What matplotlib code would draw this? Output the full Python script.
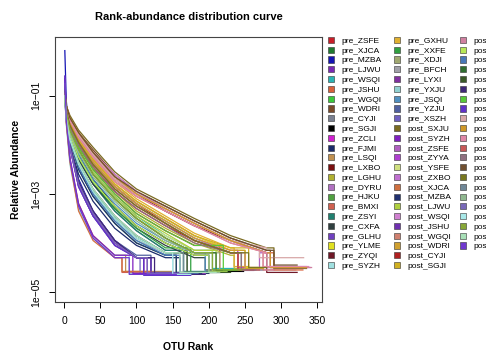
import numpy as np
import matplotlib
matplotlib.use("Agg")
import matplotlib.pyplot as plt
from matplotlib.patches import Patch

plt.rcParams['font.family'] = ['Liberation Sans', 'DejaVu Sans']

knot_ranks = [1, 3, 8, 20, 40, 70, 100, 140, 180, 230, 280]

labels = ['pre_ZSFE', 'pre_XJCA', 'pre_MZBA', 'pre_LJWU', 'pre_WSQI', 'pre_JSHU',
          'pre_WGQI', 'pre_WDRI', 'pre_CYJI', 'pre_SGJI', 'pre_ZCLI', 'pre_FJMI',
          'pre_LSQI', 'pre_LXBO', 'pre_LGHU', 'pre_DYRU', 'pre_HJKU', 'pre_BMXI',
          'pre_ZSYI', 'pre_CXFA', 'pre_GLHU', 'pre_YLME', 'pre_ZYQI', 'pre_SYZH',
          'pre_GXHU', 'pre_XXFE', 'pre_XDJI', 'pre_BFCH', 'pre_LYXI', 'pre_YXJU',
          'pre_JSQI', 'pre_YZJU', 'pre_XSZH', 'post_SXJU', 'post_SYZH', 'post_ZSFE',
          'post_ZYYA', 'post_YSFE', 'post_ZXBO', 'post_XJCA', 'post_MZBA', 'post_LJWU',
          'post_WSQI', 'post_JSHU', 'post_WGQI', 'post_WDRI', 'post_CYJI', 'post_SGJI',
          'post_GXHU', 'post_XXFE', 'post_XDJI', 'post_BFCH', 'post_LYXI', 'post_YXJU',
          'post_JSQI', 'post_YZJU', 'post_XSZH', 'post_ZCLI', 'post_FJMI', 'post_LSQI',
          'post_LXBO', 'post_LGHU', 'post_DYRU', 'post_HJKU', 'post_BMXI', 'post_ZSYI',
          'post_CXFA', 'post_GLHU', 'post_YLME', 'post_ZYQI']

colors = ['#c81e28', '#1f7a30', '#1414b4', '#7a2ab4', '#2ab4b4', '#d8603a',
          '#3ac83a', '#7a4a2a', '#7a8090', '#000000', '#d020d0', '#1a2a6a',
          '#c09050', '#7a1010', '#b0b030', '#b070c0', '#50a040', '#d06050',
          '#208070', '#304040', '#7040c0', '#e0e020', '#701828', '#a0e0e0',
          '#e0b030', '#30a040', '#a0a870', '#a0a0a8', '#8030a0', '#90d0d0',
          '#5090c0', '#5060a0', '#7060c0', '#7a6a20', '#8020c0', '#b060c0',
          '#b040d0', '#d0e080', '#c070d0', '#d07040', '#203070', '#b0d040',
          '#d080d0', '#7030b0', '#d08070', '#d0a030', '#b02020', '#d0b020',
          '#d080a0', '#b8e858', '#4878b8', '#2f6e30', '#3a5a28', '#402878',
          '#58c838', '#6030c8', '#d8a8a8', '#d09828', '#e088a8', '#c85858',
          '#907080', '#705030', '#787820', '#708898', '#90b890', '#7868b8',
          '#a8e8e8', '#88a838', '#a8e0b8', '#7038d0']

# log10 relative abundance at knot_ranks (head of each curve)
head_log = [
    [-1.0, -1.3, -1.65, -2.05, -2.5, -3.0, -3.4, -3.75, -4.05],
    [-1.0, -1.45, -1.85, -2.4, -2.95, -3.5, -3.9, -4.2],
    [-0.08, -1.1, -1.9, -2.7, -3.35, -3.95, -4.3],
    [-0.65, -1.4, -2.0, -2.85, -3.45, -4.05, -4.3],
    [-1.1, -1.45, -1.8, -2.15, -2.55, -3.05, -3.45, -3.85, -4.15],
    [-0.9, -1.2, -1.5, -1.85, -2.25, -2.75, -3.05, -3.35, -3.65, -3.95, -4.2],
    [-1.0, -1.35, -1.65, -2.0, -2.4, -2.85, -3.2, -3.55, -3.9, -4.2],
    [-0.95, -1.2, -1.45, -1.75, -2.1, -2.6, -2.95, -3.25, -3.55, -3.9, -4.15],
    [-0.95, -1.4, -1.8, -2.3, -2.8, -3.35, -3.75, -4.15],
    [-1.0, -1.4, -1.75, -2.2, -2.7, -3.25, -3.65, -4.0, -4.25],
    [-1.05, -1.3, -1.55, -1.9, -2.3, -2.8, -3.15, -3.5, -3.85, -4.15],
    [-0.8, -1.45, -2.0, -2.6, -3.15, -3.7, -4.05, -4.3],
    [-1.0, -1.55, -2.3, -3.2, -3.85, -4.25],
    [-0.95, -1.3, -1.6, -1.95, -2.35, -2.85, -3.2, -3.6, -3.95, -4.2],
    [-1.0, -1.3, -1.6, -2.0, -2.45, -2.95, -3.35, -3.7, -4.0, -4.25],
    [-1.15, -1.45, -1.7, -2.0, -2.4, -2.9, -3.25, -3.6, -3.95, -4.2],
    [-0.9, -1.5, -1.95, -2.5, -3.05, -3.6, -4.0, -4.25],
    [-0.8, -1.5, -2.3, -3.3, -3.9, -4.3],
    [-1.0, -1.4, -1.8, -2.3, -2.8, -3.35, -3.75, -4.15],
    [-1.0, -1.45, -1.85, -2.3, -2.8, -3.3, -3.7, -4.05, -4.3],
    [-0.6, -1.35, -2.0, -2.75, -3.35, -3.95, -4.3],
    [-1.0, -1.3, -1.55, -1.9, -2.3, -2.8, -3.15, -3.5, -3.85, -4.15],
    [-0.95, -1.25, -1.5, -1.8, -2.2, -2.7, -3.0, -3.35, -3.65, -3.95, -4.2],
    [-1.0, -1.6, -2.4, -3.3, -3.9, -4.25],
    [-1.0, -1.25, -1.55, -1.9, -2.3, -2.75, -3.1, -3.45, -3.8, -4.1],
    [-1.0, -1.4, -1.8, -2.25, -2.75, -3.3, -3.7, -4.1],
    [-1.05, -1.35, -1.7, -2.1, -2.6, -3.1, -3.5, -3.9, -4.2],
    [-1.0, -1.5, -1.9, -2.45, -3.0, -3.55, -3.95, -4.2],
    [-0.75, -1.45, -2.05, -2.85, -3.45, -4.0, -4.3],
    [-1.0, -1.5, -1.95, -2.5, -3.0, -3.55, -3.95, -4.25],
    [-1.0, -1.35, -1.75, -2.2, -2.7, -3.2, -3.6, -3.95, -4.2],
    [-0.7, -1.4, -2.0, -2.75, -3.35, -3.95, -4.25],
    [-0.65, -1.4, -2.05, -2.85, -3.45, -4.05, -4.3],
    [-0.95, -1.2, -1.4, -1.7, -2.05, -2.55, -2.9, -3.2, -3.5, -3.85, -4.1],
    [-0.75, -1.5, -2.25, -3.2, -3.85, -4.25],
    [-1.0, -1.25, -1.5, -1.8, -2.2, -2.65, -3.0, -3.3, -3.6, -3.95, -4.2],
    [-0.7, -1.4, -2.0, -2.8, -3.4, -4.0, -4.3],
    [-1.05, -1.4, -1.75, -2.15, -2.6, -3.1, -3.5, -3.85, -4.15],
    [-1.0, -1.3, -1.6, -1.95, -2.35, -2.85, -3.2, -3.55, -3.9, -4.2],
    [-0.9, -1.55, -2.35, -3.35, -3.95, -4.3],
    [-0.8, -1.4, -1.9, -2.5, -3.05, -3.6, -4.0, -4.25],
    [-1.0, -1.35, -1.7, -2.1, -2.55, -3.05, -3.45, -3.8, -4.15],
    [-0.95, -1.25, -1.5, -1.8, -2.15, -2.6, -2.95, -3.3, -3.6, -3.95, -4.2],
    [-0.65, -1.4, -2.0, -2.8, -3.4, -4.0, -4.3],
    [-0.95, -1.25, -1.55, -1.85, -2.25, -2.7, -3.05, -3.35, -3.65, -4.0, -4.2],
    [-1.0, -1.3, -1.6, -1.95, -2.35, -2.85, -3.2, -3.55, -3.9, -4.15],
    [-1.0, -1.3, -1.6, -2.0, -2.45, -2.95, -3.3, -3.65, -3.95, -4.2],
    [-0.95, -1.25, -1.55, -1.9, -2.3, -2.8, -3.15, -3.5, -3.85, -4.1],
    [-0.95, -1.25, -1.5, -1.8, -2.2, -2.7, -3.0, -3.3, -3.6, -3.95, -4.2],
    [-1.0, -1.4, -1.8, -2.25, -2.75, -3.25, -3.65, -4.0, -4.25],
    [-0.9, -1.45, -1.9, -2.45, -3.0, -3.55, -3.95, -4.25],
    [-1.0, -1.35, -1.7, -2.1, -2.6, -3.1, -3.5, -3.9, -4.2],
    [-1.0, -1.45, -1.9, -2.4, -2.9, -3.45, -3.85, -4.2],
    [-0.7, -1.4, -2.0, -2.75, -3.35, -3.95, -4.3],
    [-1.0, -1.3, -1.65, -2.05, -2.5, -3.0, -3.4, -3.75, -4.05],
    [-0.6, -1.4, -2.05, -2.85, -3.45, -4.05, -4.3],
    [-0.95, -1.25, -1.5, -1.8, -2.2, -2.7, -3.0, -3.3, -3.6, -3.95, -4.1],
    [-0.95, -1.2, -1.45, -1.75, -2.15, -2.65, -3.0, -3.3, -3.6, -3.95, -4.2],
    [-0.95, -1.25, -1.5, -1.85, -2.25, -2.75, -3.05, -3.35, -3.65, -4.0, -4.2],
    [-1.0, -1.3, -1.6, -1.95, -2.4, -2.9, -3.25, -3.6, -3.95, -4.2],
    [-1.05, -1.35, -1.65, -2.0, -2.45, -2.95, -3.3, -3.65, -4.0, -4.2],
    [-0.9, -1.2, -1.45, -1.75, -2.15, -2.65, -2.95, -3.25, -3.55, -3.9, -4.15],
    [-1.0, -1.3, -1.6, -1.95, -2.4, -2.9, -3.25, -3.6, -3.95, -4.2],
    [-1.0, -1.45, -1.85, -2.35, -2.9, -3.45, -3.85, -4.2],
    [-1.0, -1.35, -1.75, -2.15, -2.65, -3.15, -3.55, -3.95, -4.2],
    [-0.75, -1.45, -2.05, -2.8, -3.4, -4.0, -4.3],
    [-1.0, -1.5, -1.9, -2.4, -2.95, -3.5, -3.9, -4.2],
    [-1.0, -1.35, -1.7, -2.1, -2.6, -3.1, -3.5, -3.9, -4.2],
    [-1.0, -1.45, -1.85, -2.35, -2.9, -3.45, -3.85, -4.2],
    [-0.7, -1.5, -2.3, -3.25, -3.9, -4.3],
]

# rank where the singleton tail starts, last OTU rank, log10 singleton level
tail_rank = [215, 165, 120, 110, 205, 290, 245, 285, 170, 200, 240, 160,
             85, 240, 235, 245, 155, 80, 165, 195, 115, 250, 280, 90,
             235, 175, 215, 150, 110, 150, 195, 120, 105, 290, 95, 270,
             115, 205, 250, 80, 155, 210, 285, 120, 275, 250, 240, 255,
             280, 200, 160, 210, 170, 125, 220, 110, 270, 285, 275, 240,
             245, 290, 255, 165, 200, 115, 150, 205, 160, 90]
last_rank = [250, 215, 180, 175, 240, 330, 275, 318, 210, 248, 268, 200,
             150, 262, 255, 262, 200, 130, 225, 235, 190, 275, 322, 160,
             255, 215, 240, 190, 165, 180, 225, 185, 170, 335, 165, 340,
             195, 220, 290, 120, 190, 250, 335, 175, 320, 275, 262, 276,
             342, 225, 185, 240, 230, 195, 250, 175, 331, 335, 338, 270,
             265, 322, 280, 205, 215, 170, 175, 245, 210, 155]
floor_log = [-4.55, -4.6, -4.62, -4.64, -4.52, -4.55, -4.55, -4.5, -4.6, -4.58, -4.5, -4.62,
             -4.58, -4.55, -4.52, -4.56, -4.6, -4.6, -4.58, -4.55, -4.62, -4.5, -4.6, -4.62,
             -4.48, -4.6, -4.55, -4.62, -4.64, -4.62, -4.6, -4.6, -4.64, -4.52, -4.62, -4.5,
             -4.62, -4.58, -4.55, -4.58, -4.62, -4.55, -4.48, -4.64, -4.55, -4.52, -4.55, -4.5,
             -4.5, -4.58, -4.62, -4.56, -4.6, -4.64, -4.55, -4.66, -4.3, -4.5, -4.48, -4.55,
             -4.55, -4.45, -4.5, -4.6, -4.6, -4.62, -4.64, -4.55, -4.6, -4.64]

fig = plt.figure(figsize=(4.86, 3.51), dpi=100)
ax = fig.add_axes([0.113, 0.14, 0.55, 0.755])

for i in range(len(labels)):
    n = len(head_log[i])
    xs = knot_ranks[:n] + [tail_rank[i], tail_rank[i], last_rank[i]]
    ys = head_log[i] + [head_log[i][-1], floor_log[i], floor_log[i]]
    ax.plot(xs, 10 ** np.array(ys), color=colors[i], lw=0.9)

ax.set_yscale('log')
ax.set_xlim(-12.7, 356.7)
ax.set_ylim(10 ** -5.2, 10 ** 0.2)
ax.set_xticks([0, 50, 100, 150, 200, 250, 300, 350])
ax.set_yticks([1e-1, 1e-3, 1e-5])
ax.set_yticklabels(['1e\u221201', '1e\u221203', '1e\u221205'], rotation=90, va='center')
ax.minorticks_off()
ax.tick_params(labelsize=7.5, length=4, width=0.7, direction='out', pad=6)
for s in ax.spines.values():
    s.set_linewidth(0.8)
    s.set_color('#444444')

ax.set_title('Rank-abundance distribution curve', fontsize=8, fontweight='bold', pad=12)
ax.set_xlabel('OTU Rank', fontsize=7.5, fontweight='bold', labelpad=12)
ax.set_ylabel('Relative Abundance', fontsize=7.5, fontweight='bold', labelpad=7)

# legend: three columns of 24, 24 and 22 entries (last column runs off the edge)
handles = [Patch(facecolor=c, edgecolor='#333333', linewidth=0.4) for c in colors]
col_starts = [0, 24, 48, 70]
col_x = [0.675, 0.811, 0.947]
for k in range(3):
    a, b = col_starts[k], col_starts[k + 1]
    fig.legend(handles[a:b], labels[a:b], loc='upper left',
               bbox_to_anchor=(col_x[k], 0.895), frameon=False, fontsize=6,
               handlelength=0.75, handleheight=0.75, handletextpad=0.8,
               labelspacing=0.22, borderpad=0, borderaxespad=0)

fig.savefig('out.png', dpi=100)
